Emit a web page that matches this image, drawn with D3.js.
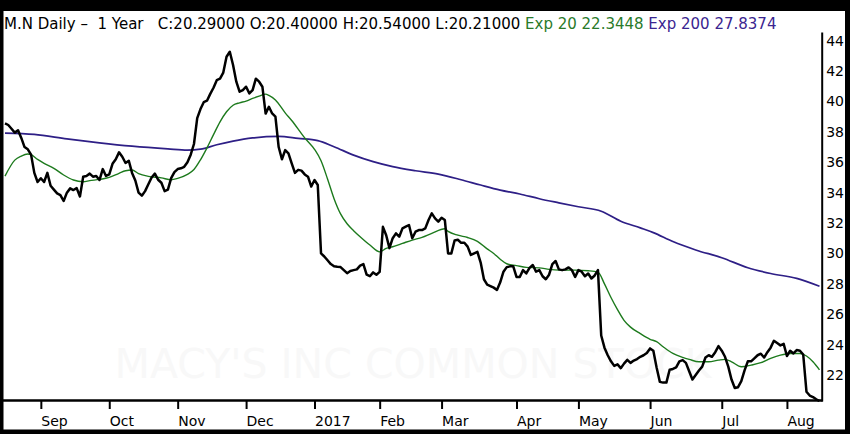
<!DOCTYPE html>
<html>
<head>
<meta charset="utf-8">
<script src="https://cdn.jsdelivr.net/npm/d3@7"></script>
<style>
  html, body { margin: 0; padding: 0; background: #fff; }
  svg { display: block; }
</style>
</head>
<body>
<svg id="chart" width="850" height="434"></svg>
<script>
// ---- Data (trading-day index 0 = mid Aug 2016, 250 = mid Aug 2017) ----
const closes = [
38.56, 38.45, 38.2, 37.95, 38.1, 37.6, 37.0, 36.85, 36.5, 35.3,
34.7, 34.95, 34.7, 35.3, 34.45, 34.2, 33.95, 33.84, 33.45, 34.0,
34.28, 34.17, 34.3, 33.75, 35.05, 35.1, 35.25, 35.05, 35.1, 34.83,
35.55, 35.1, 35.2, 35.9, 36.2, 36.65, 36.36, 35.95, 36.1, 35.3,
34.8, 34.0, 33.8, 34.1, 34.55, 35.0, 35.25, 34.85, 34.65, 34.1,
34.2, 34.95, 35.35, 35.55, 35.6, 35.7, 36.0, 36.5, 37.2, 38.9,
39.5, 39.95, 40.05, 40.5, 40.9, 41.4, 41.5, 41.9, 42.94, 43.27,
42.4, 41.3, 40.64, 40.75, 40.97, 40.53, 40.75, 41.5, 41.3, 40.97,
39.2, 39.65, 39.21, 39.0, 37.0, 36.2, 36.8, 36.58, 35.93, 35.3,
35.5, 35.45, 35.2, 35.05, 34.4, 34.83, 34.5, 30.0, 29.8, 29.55,
29.3, 29.15, 29.12, 29.1, 28.9, 28.7, 28.85, 28.9, 28.95, 29.2,
29.3, 28.6, 28.5, 28.75, 28.6, 28.79, 31.75, 31.2, 30.35, 31.0,
31.32, 31.1, 31.65, 31.76, 31.87, 31.0, 31.43, 31.54, 31.54, 31.65,
32.2, 32.64, 32.31, 32.09, 32.35, 32.2, 30.0, 30.0, 30.85, 30.9,
30.7, 30.7, 30.45, 29.9, 30.0, 30.1, 29.4, 28.3, 27.95, 27.85,
27.75, 27.6, 28.1, 28.8, 29.1, 29.15, 29.15, 28.45, 28.45, 28.9,
28.68, 29.05, 29.24, 28.8, 28.9, 28.5, 28.3, 28.6, 29.3, 29.5,
28.95, 28.9, 28.95, 29.08, 28.9, 28.45, 28.9, 28.8, 28.5, 28.68,
28.35, 28.55, 28.9, 24.6, 23.8, 23.3, 22.9, 22.6, 22.7, 22.45,
22.75, 23.0, 22.8, 22.95, 23.05, 23.2, 23.3, 23.45, 23.75, 23.6,
22.5, 21.55, 21.5, 21.5, 22.35, 22.4, 22.5, 22.9, 22.98, 22.8,
22.25, 21.7, 22.0, 22.3, 22.55, 23.15, 23.3, 23.2, 23.5, 23.9,
23.6, 23.2, 22.55, 21.7, 21.15, 21.2, 21.6, 22.3, 22.9, 22.9,
23.1, 23.3, 23.4, 23.15, 23.5, 23.8, 24.25, 24.1, 23.95, 24.05,
23.25, 23.6, 23.42, 23.64, 23.6, 23.35, 20.9, 20.65, 20.55, 20.4,
20.29
];

const ema20Idx = [0, 3, 5, 7, 8, 10, 12, 15, 18, 21, 24, 26, 29, 32, 35, 37, 39, 41, 44, 48,
  51, 53, 56, 58, 60, 62, 64, 66, 68, 70, 72, 74, 76, 78, 80, 81, 83, 86, 88, 92,
  95, 97, 99, 101, 103, 105, 107, 109, 112, 115, 117, 119, 122, 125, 128, 131, 135, 136, 139, 142,
  145, 148, 150, 152, 154, 157, 160, 164, 167, 170, 175, 179, 182, 184, 186, 188, 190, 192, 195, 198,
  200, 202, 205, 208, 210, 213, 216, 219, 221, 223, 226, 229, 232, 235, 238, 241, 244, 246, 248, 250];
const ema20Val = [35.09, 36.14, 36.41, 36.54, 36.5, 36.19, 35.93, 35.6, 35.16, 34.83, 34.72, 34.79, 34.87, 35.0, 35.27, 35.44, 35.49, 35.25, 35.07, 34.97,
  34.85, 34.94, 35.2, 35.52, 36.16, 36.95, 37.82, 38.66, 39.32, 39.75, 39.91, 40.02, 40.2, 40.35, 40.48, 40.4, 40.1, 39.25, 38.75, 37.6,
  36.85, 36.1, 34.9, 33.6, 32.6, 31.95, 31.5, 31.1, 30.55, 30.1, 30.33, 30.44, 30.66, 30.88, 31.06, 31.32, 31.62, 31.45, 31.2, 31.05,
  30.8, 30.3, 30.0, 29.62, 29.32, 29.2, 29.08, 29.05, 28.95, 28.9, 28.9, 28.86, 28.77, 28.0, 27.1, 26.3, 25.6, 25.15, 24.72, 24.35,
  24.19, 23.86, 23.42, 23.16, 23.03, 22.87, 22.87, 22.98, 23.03, 22.87, 22.54, 22.65, 22.81, 23.09, 23.31, 23.42, 23.42, 23.25, 22.87, 22.34];

const ema200Idx = [0, 9, 19, 29, 39, 50, 56, 60, 65, 70, 76, 84, 90, 96, 101, 107, 113, 119, 126, 133,
  140, 146, 152, 158, 164, 170, 176, 183, 189, 195, 199, 205, 212, 220, 228, 235, 243, 250];
const ema200Val = [37.92, 37.83, 37.54, 37.28, 37.06, 36.88, 36.8, 36.86, 37.15, 37.39, 37.6, 37.7, 37.57, 37.42, 37.02, 36.47, 36.04, 35.71, 35.44, 35.22,
  34.85, 34.5, 34.17, 33.91, 33.6, 33.33, 33.07, 32.78, 32.12, 31.68, 31.37, 30.78, 30.23, 29.72, 29.06, 28.68, 28.36, 27.84];

const monthIdx = [11, 32, 53, 74, 95, 115, 134, 157, 176, 198, 220, 240];
const monthLabels = ["Sep", "Oct", "Nov", "Dec", "2017", "Feb", "Mar", "Apr", "May", "Jun", "Jul", "Aug"];
const yTicks = [22, 24, 26, 28, 30, 32, 34, 36, 38, 40, 42, 44];

const headerParts = [
  {t: "M.N Daily \u2013  1 Year   C:20.29000 O:20.40000 H:20.54000 L:20.21000 ", c: "#000"},
  {t: "Exp 20 22.3448 ", c: "#2a7a2a"},
  {t: "Exp 200 27.8374", c: "#3a2590"}
];
const watermark = "MACY'S INC COMMON STOCK";

// ---- Drawing ----
const svg = d3.select("#chart");
const W = 850, H = 434;
const font = "DejaVu Sans, Verdana, sans-serif";

svg.append("rect").attr("width", W).attr("height", H).attr("fill", "#fff");

const x = d3.scaleLinear().domain([0, 250]).range([5, 819.5]);
const y = d3.scaleLinear().domain([20.29, 44.57]).range([401, 32]);

// watermark
svg.append("text").attr("x", 413).attr("y", 378).attr("text-anchor", "middle")
  .attr("font-family", font).attr("font-size", 41).attr("fill", "#f8f8f8").text(watermark);

svg.append("clipPath").attr("id", "plotclip").append("rect")
  .attr("x", 3.5).attr("y", 30).attr("width", 818).attr("height", 372);

const g = svg.append("g").attr("clip-path", "url(#plotclip)");

const lineIdx = d3.line().x(d => x(d[0])).y(d => y(d[1])).curve(d3.curveMonotoneX);

g.append("path").datum(ema200Idx.map((d, i) => [d, ema200Val[i]]))
  .attr("d", lineIdx).attr("fill", "none").attr("stroke", "#2e1f86").attr("stroke-width", 1.7);

g.append("path").datum(ema20Idx.map((d, i) => [d, ema20Val[i]]))
  .attr("d", lineIdx).attr("fill", "none").attr("stroke", "#1d7a1d").attr("stroke-width", 1.4);

const priceLine = d3.line().x((d, i) => x(i)).y(d => y(d));
g.append("path").datum(closes).attr("d", priceLine).attr("fill", "none")
  .attr("stroke", "#000").attr("stroke-width", 2.5).attr("stroke-linejoin", "round");

// right axis
const yAxis = d3.axisRight(y).tickValues(yTicks).tickSize(0).tickPadding(4.5).tickSizeOuter(0);
const ya = svg.append("g").attr("transform", "translate(821.7,0)").call(yAxis);
ya.select(".domain").attr("stroke", "#000").attr("stroke-width", 2);
ya.selectAll("text").attr("font-family", font).attr("font-size", 14).attr("fill", "#000");

// bottom axis
svg.append("line").attr("x1", 3).attr("x2", 822.7).attr("y1", 400.5).attr("y2", 400.5)
  .attr("stroke", "#000").attr("stroke-width", 2.5);
const xAxis = d3.axisBottom(x).tickValues(monthIdx).tickFormat((d, i) => monthLabels[i]).tickSize(8.5).tickSizeOuter(0);
const xa = svg.append("g").attr("transform", "translate(0,400.5)").call(xAxis);
xa.select(".domain").remove();
xa.selectAll(".tick line").attr("stroke", "#000").attr("stroke-width", 2);
xa.selectAll(".tick text").attr("font-family", font).attr("font-size", 14).attr("fill", "#000")
  .attr("text-anchor", "start").attr("x", 0).attr("y", 25.5).attr("dy", 0);

// header
const ht = svg.append("text").attr("x", 4).attr("y", 29).attr("font-family", font)
  .attr("font-size", 15).attr("xml:space", "preserve").style("white-space", "pre");
headerParts.forEach(p => ht.append("tspan").attr("fill", p.c).text(p.t));

// black frame
svg.append("rect").attr("x", 0).attr("y", 0).attr("width", W).attr("height", 11).attr("fill", "#000");
svg.append("rect").attr("x", 0).attr("y", 0).attr("width", 3.5).attr("height", H).attr("fill", "#000");
svg.append("rect").attr("x", 845).attr("y", 0).attr("width", 5).attr("height", H).attr("fill", "#000");
svg.append("rect").attr("x", 0).attr("y", 429.5).attr("width", W).attr("height", 4.5).attr("fill", "#000");
</script>
</body>
</html>
